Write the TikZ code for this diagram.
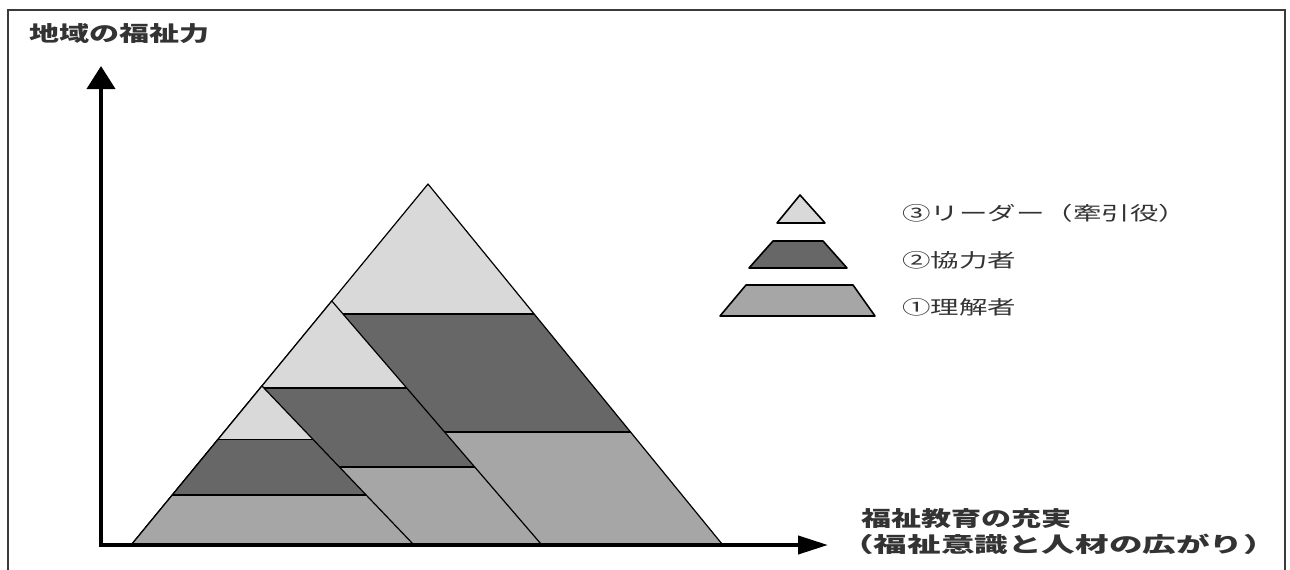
\documentclass[tikz,border=0pt]{standalone}
\usepackage{fontspec}
\newfontfamily\jpA[FakeStretch=1.43]{Noto Sans CJK JP}
\newfontfamily\jpB[FakeStretch=1.6]{Noto Sans CJK JP}
\newfontfamily\jpC[FakeStretch=1.5]{Noto Sans CJK JP}
\usetikzlibrary{calc,arrows.meta}
\definecolor{lt}{HTML}{D9D9D9}
\definecolor{dk}{HTML}{676767}
\definecolor{md}{HTML}{A6A6A6}
\definecolor{framec}{HTML}{3A3A3A}
\definecolor{txt}{HTML}{333333}
\tikzset{
  band/.style={draw=black, line width=1.2pt, line join=round},
  legshape/.style={draw=black, line width=1.6pt, line join=round},
  axis/.style={line width=4pt, black},
  lab/.style={inner sep=0pt, anchor=west, text=txt, font=\jpA\bfseries\fontsize{21}{25}\selectfont},
  labwide/.style={inner sep=0pt, anchor=west, text=txt, font=\jpB\bfseries\fontsize{21}{25}\selectfont},
  legtext/.style={inner sep=0pt, anchor=west, text=txt, font=\jpC\fontsize{19}{23}\selectfont}
}
\newcommand{\pyramid}[5]{% apex, left base, right base, t1, t2
  \fill[lt] (#1) -- ($(#1)!#4!(#2)$) -- ($(#1)!#4!(#3)$) -- cycle;
  \fill[dk] ($(#1)!#4!(#2)$) -- ($(#1)!#5!(#2)$) -- ($(#1)!#5!(#3)$) -- ($(#1)!#4!(#3)$) -- cycle;
  \fill[md] ($(#1)!#5!(#2)$) -- (#2) -- (#3) -- ($(#1)!#5!(#3)$) -- cycle;
  \draw[band] (#1) -- (#2) -- (#3) -- cycle;
  \draw[band] ($(#1)!#4!(#2)$) -- ($(#1)!#4!(#3)$);
  \draw[band] ($(#1)!#5!(#2)$) -- ($(#1)!#5!(#3)$);
}
\begin{document}
\begin{tikzpicture}[x=1pt,y=-1pt]
\useasboundingbox (0,0) rectangle (1290,570);
\fill[white] (0,0) rectangle (1290,570);
% frame
\draw[framec, line width=1.6pt] (8,570) -- (8,10) -- (1285,10) -- (1285,570);

% pyramids
\coordinate (BL) at (132,544);
\coordinate (LA) at (428,184);
\coordinate (LR) at (722,544);
\coordinate (MA) at ($(LA)!0.325!(BL)$);
\coordinate (MR) at (541,544);
\coordinate (SA) at ($(LA)!0.561!(BL)$);
\coordinate (SR) at (413,544);
\pyramid{LA}{BL}{LR}{0.361}{0.689}
\pyramid{MA}{BL}{MR}{0.358}{0.683}
\pyramid{SA}{BL}{SR}{0.340}{0.690}

% axes
\coordinate (O) at (101,545);
\coordinate (ytip) at (101,66);
\coordinate (xtip) at (828,545);
\draw[axis, -{Triangle[length=23pt,width=28pt]}] ($(O)+(0,2)$) -- (ytip);
\draw[axis, -{Triangle[length=30pt,width=18pt]}] ($(O)+(-2,0)$) -- (xtip);

% axis labels
\node[lab] (ylab) at (29,34) {地域の福祉力};
\node[lab] (xlab1) at (861,519) {福祉教育の充実};
\node[labwide] (xlab2) at (840,544) {（福祉意識と人材の広がり）};

% legend
\draw[legshape, fill=lt] (800,195) -- (825,223) -- (777,223) -- cycle;
\draw[legshape, fill=dk] (773,241) -- (823,241) -- (847,268) -- (749,268) -- cycle;
\draw[legshape, fill=md] (746,285) -- (853,285) -- (875,316) -- (720,316) -- cycle;
\node[legtext] (leg3) at (902,213) {③リーダー（牽引役）};
\node[legtext] (leg2) at (902,260) {②協力者};
\node[legtext] (leg1) at (902,307) {①理解者};
\end{tikzpicture}
\end{document}
